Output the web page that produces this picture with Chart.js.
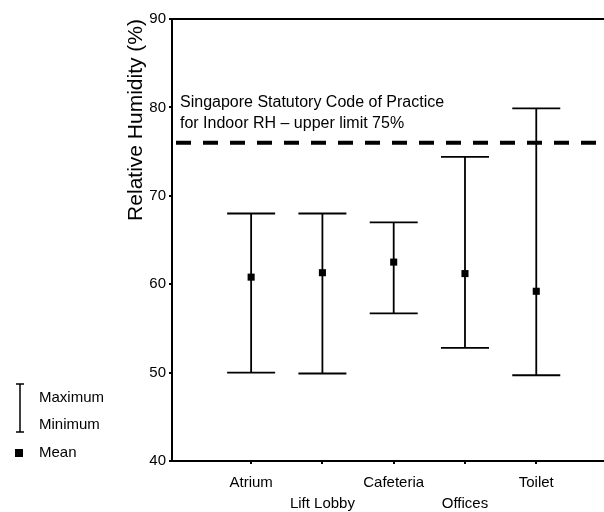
<!DOCTYPE html>
<html>
<head>
<meta charset="utf-8">
<script src="https://cdn.jsdelivr.net/npm/chart.js@4.4.0/dist/chart.umd.min.js"></script>
<style>
  html, body { margin: 0; padding: 0; background: #fff; }
  #wrap { width: 604px; height: 512px; position: relative; }
</style>
</head>
<body>
<div id="wrap"><canvas id="chart" width="604" height="512"></canvas></div>
<script>
// Data
const categories = ['Atrium', 'Lift Lobby', 'Cafeteria', 'Offices', 'Toilet'];
const meanRH = [60.8, 61.3, 62.5, 61.2, 59.2];
const maxRH = [68.0, 68.0, 67.0, 74.4, 79.9];
const minRH = [50.0, 49.9, 56.7, 52.8, 49.7];
const yTicks = [40, 50, 60, 70, 80, 90];
const limitLine = 76;
const noteLines = ['Singapore Statutory Code of Practice', 'for Indoor RH \u2013 upper limit 75%'];

const FONT = '"Liberation Sans", Arial, Helvetica, sans-serif';

// error bars, limit line, note, frame lines and the custom legend
const extras = {
    id: 'extras',
    afterDatasetsDraw(chart) {
        const ctx = chart.ctx;
        const xs = chart.scales.x, ys = chart.scales.y;
        const area = chart.chartArea;
        const edge = chart.width;
        ctx.save();
        ctx.strokeStyle = '#000';

        // top border, and x axis run on to the edge
        ctx.lineWidth = 2;
        ctx.beginPath();
        ctx.moveTo(area.left, area.top);
        ctx.lineTo(edge, area.top);
        ctx.moveTo(area.right - 1, area.bottom);
        ctx.lineTo(edge, area.bottom);
        ctx.stroke();

        // min / max bars
        categories.forEach((c, i) => {
            const x = xs.getPixelForValue(i);
            const yMax = ys.getPixelForValue(maxRH[i]);
            const yMin = ys.getPixelForValue(minRH[i]);
            ctx.lineWidth = 1.8;
            ctx.beginPath();
            ctx.moveTo(x, yMax);
            ctx.lineTo(x, yMin);
            ctx.moveTo(x - 24, yMax);
            ctx.lineTo(x + 24, yMax);
            ctx.moveTo(x - 24, yMin);
            ctx.lineTo(x + 24, yMin);
            ctx.stroke();
        });

        // dashed limit line
        const yl = ys.getPixelForValue(limitLine);
        ctx.lineWidth = 4;
        ctx.setLineDash([15, 12]);
        ctx.beginPath();
        ctx.moveTo(area.left + 4, yl);
        ctx.lineTo(edge, yl);
        ctx.stroke();
        ctx.setLineDash([]);

        // note text
        ctx.fillStyle = '#000';
        ctx.font = '16px ' + FONT;
        ctx.textAlign = 'left';
        ctx.textBaseline = 'middle';
        ctx.fillText(noteLines[0], area.left + 8, 103);
        ctx.fillText(noteLines[1], area.left + 8, 124);

        // legend
        ctx.lineWidth = 1.5;
        ctx.beginPath();
        ctx.moveTo(20, 384); ctx.lineTo(20, 432);
        ctx.moveTo(16, 384); ctx.lineTo(24, 384);
        ctx.moveTo(16, 432); ctx.lineTo(24, 432);
        ctx.stroke();
        ctx.fillRect(15, 449, 8, 8);
        ctx.font = '15px ' + FONT;
        ctx.fillText('Maximum', 39, 398);
        ctx.fillText('Minimum', 39, 425);
        ctx.fillText('Mean', 39, 453);
        ctx.restore();
    }
};

new Chart(document.getElementById('chart'), {
    type: 'scatter',
    data: {
        datasets: [{
            label: 'Mean',
            data: meanRH.map((v, i) => ({ x: i, y: v })),
            pointStyle: 'rect',
            pointRadius: 5,
            pointBackgroundColor: '#000',
            pointBorderColor: '#000',
            pointBorderWidth: 0
        }]
    },
    options: {
        responsive: false,
        animation: false,
        events: [],
        layout: { padding: { left: 0, top: 19, right: 0, bottom: 0 } },
        plugins: {
            legend: { display: false },
            tooltip: { enabled: false }
        },
        scales: {
            x: {
                type: 'linear',
                min: -1.11,
                max: 4.88,
                afterBuildTicks: (scale) => {
                    scale.ticks = categories.map((c, i) => ({ value: i }));
                },
                afterFit: (scale) => { scale.height = 51; },
                ticks: {
                    color: '#000',
                    font: { family: FONT, size: 15, lineHeight: 1.4 },
                    padding: 8,
                    autoSkip: false,
                    maxRotation: 0,
                    callback: (v, i) => (i % 2 === 0 ? categories[i] : ['', categories[i]])
                },
                grid: {
                    drawOnChartArea: false,
                    drawTicks: true,
                    tickLength: 3,
                    color: '#000',
                    lineWidth: 2
                },
                border: { display: true, color: '#000', width: 2 }
            },
            y: {
                min: 40,
                max: 90,
                afterBuildTicks: (scale) => {
                    scale.ticks = yTicks.map(v => ({ value: v }));
                },
                afterFit: (scale) => { scale.width = 172; },
                ticks: {
                    color: '#000',
                    font: { family: FONT, size: 15 },
                    padding: 3
                },
                grid: {
                    drawOnChartArea: false,
                    drawTicks: true,
                    tickLength: 3,
                    color: '#000',
                    lineWidth: 2
                },
                border: { display: true, color: '#000', width: 2 },
                title: {
                    display: true,
                    text: 'Relative Humidity (%)',
                    align: 'end',
                    color: '#000',
                    font: { family: FONT, size: 21 },
                    padding: { top: 124, bottom: 0 }
                }
            }
        }
    },
    plugins: [extras]
});
</script>
</body>
</html>
